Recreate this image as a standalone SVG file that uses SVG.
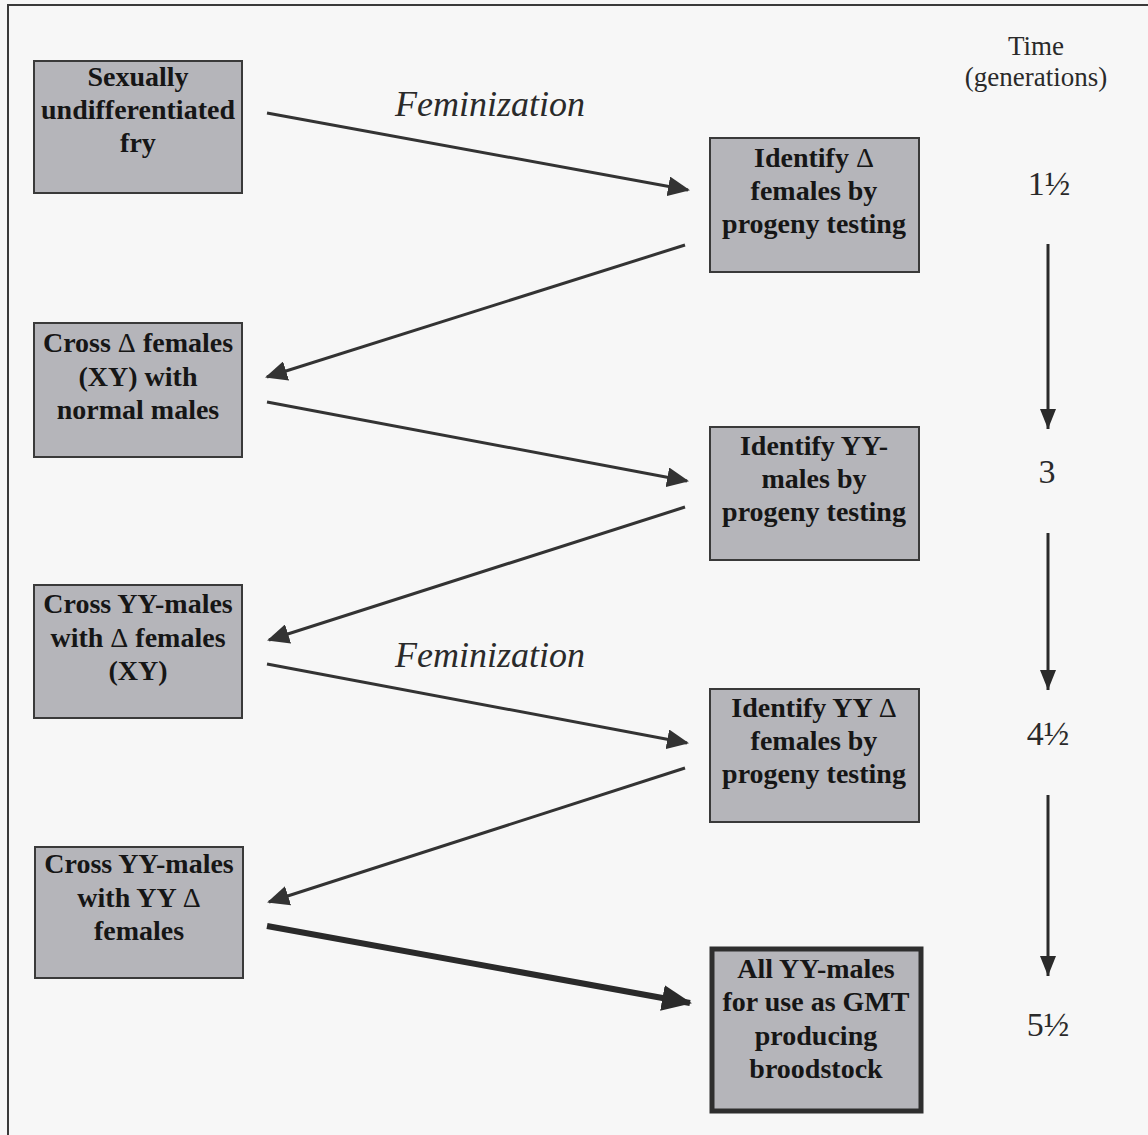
<svg xmlns="http://www.w3.org/2000/svg" width="1148" height="1135" viewBox="0 0 1148 1135">
<defs>
<style>
.box{fill:#b5b5ba;stroke:#3a3a3a;stroke-width:2}
.box8{fill:#b5b5ba;stroke:#2e2e2e;stroke-width:5}
.lbl{font-family:"Liberation Serif","Times New Roman",serif;font-weight:bold;font-size:28px;fill:#161616;text-anchor:middle}
.d{font-weight:normal}
.conn{stroke:#333;stroke-width:3;fill:none}
.thick{stroke:#2a2a2a;stroke-width:6;fill:none}
.fem{font-family:"Liberation Serif","Times New Roman",serif;font-style:italic;font-size:36px;fill:#2a2a2a}
.time{font-family:"Liberation Serif","Times New Roman",serif;font-size:27px;fill:#2a2a2a;text-anchor:middle}
.num{font-family:"Liberation Serif","Times New Roman",serif;font-size:34px;fill:#2a2a2a;text-anchor:middle}
.tl{stroke:#2a2a2a;stroke-width:3;fill:none}
</style>
<marker id="ah" markerWidth="22" markerHeight="20" refX="20" refY="10" orient="auto" markerUnits="userSpaceOnUse">
<path d="M0,0 L22,10 L0,20 Z" fill="#333"/>
</marker>
<marker id="ahT" markerWidth="30" markerHeight="26" refX="28" refY="13" orient="auto" markerUnits="userSpaceOnUse">
<path d="M0,0 L30,13 L0,26 Z" fill="#2a2a2a"/>
</marker>
<marker id="ahV" markerWidth="22" markerHeight="16" refX="20" refY="8" orient="auto" markerUnits="userSpaceOnUse">
<path d="M0,0 L20,8 L0,16 Z" fill="#2a2a2a"/>
</marker>
</defs>
<rect width="1148" height="1135" fill="#f7f7f7"/>
<path d="M8,1135 V5 H1148" fill="none" stroke="#3a3a3a" stroke-width="2"/>

<g id="connectors">
<line class="conn" x1="267" y1="113" x2="688" y2="190" marker-end="url(#ah)"/>
<line class="conn" x1="685" y1="245" x2="267" y2="377" marker-end="url(#ah)"/>
<line class="conn" x1="267" y1="402" x2="687" y2="481" marker-end="url(#ah)"/>
<line class="conn" x1="685" y1="507" x2="269" y2="640" marker-end="url(#ah)"/>
<line class="conn" x1="267" y1="664" x2="687" y2="743" marker-end="url(#ah)"/>
<line class="conn" x1="685" y1="768" x2="269" y2="902" marker-end="url(#ah)"/>
<line class="thick" x1="267" y1="926" x2="690" y2="1003" marker-end="url(#ahT)"/>
<line class="tl" x1="1048" y1="244" x2="1048" y2="429" marker-end="url(#ahV)"/>
<line class="tl" x1="1048" y1="533" x2="1048" y2="690" marker-end="url(#ahV)"/>
<line class="tl" x1="1048" y1="795" x2="1048" y2="976" marker-end="url(#ahV)"/>
</g>

<text class="fem" x="395" y="116">Feminization</text>
<text class="fem" x="395" y="667">Feminization</text>

<g id="time">
<text class="time" x="1036" y="55">Time</text>
<text class="time" x="1036" y="86">(generations)</text>
<text class="num" x="1049" y="195">1½</text>
<text class="num" x="1047" y="483">3</text>
<text class="num" x="1048" y="745">4½</text>
<text class="num" x="1048" y="1036">5½</text>
</g>

<g id="n1">
<rect class="box" x="34" y="61" width="208" height="132"/>
<text class="lbl" x="138" y="86">Sexually</text>
<text class="lbl" x="138" y="119">undifferentiated</text>
<text class="lbl" x="138" y="152">fry</text>
</g>
<g id="n2">
<rect class="box" x="710" y="138" width="209" height="134"/>
<text class="lbl" x="814" y="167">Identify <tspan class="d">Δ</tspan></text>
<text class="lbl" x="814" y="200">females by</text>
<text class="lbl" x="814" y="233">progeny testing</text>
</g>
<g id="n3">
<rect class="box" x="34" y="323" width="208" height="134"/>
<text class="lbl" x="138" y="352">Cross <tspan class="d">Δ</tspan> females</text>
<text class="lbl" x="138" y="386">(XY) with</text>
<text class="lbl" x="138" y="419">normal males</text>
</g>
<g id="n4">
<rect class="box" x="710" y="427" width="209" height="133"/>
<text class="lbl" x="814" y="455">Identify YY-</text>
<text class="lbl" x="814" y="488">males by</text>
<text class="lbl" x="814" y="521">progeny testing</text>
</g>
<g id="n5">
<rect class="box" x="34" y="585" width="208" height="133"/>
<text class="lbl" x="138" y="613">Cross YY-males</text>
<text class="lbl" x="138" y="647">with <tspan class="d">Δ</tspan> females</text>
<text class="lbl" x="138" y="680">(XY)</text>
</g>
<g id="n6">
<rect class="box" x="710" y="689" width="209" height="133"/>
<text class="lbl" x="814" y="717">Identify YY <tspan class="d">Δ</tspan></text>
<text class="lbl" x="814" y="750">females by</text>
<text class="lbl" x="814" y="783">progeny testing</text>
</g>
<g id="n7">
<rect class="box" x="35" y="847" width="208" height="131"/>
<text class="lbl" x="139" y="873">Cross YY-males</text>
<text class="lbl" x="139" y="907">with YY <tspan class="d">Δ</tspan></text>
<text class="lbl" x="139" y="940">females</text>
</g>
<g id="n8">
<rect class="box8" x="712" y="949" width="209" height="162"/>
<text class="lbl" x="816" y="978">All YY-males</text>
<text class="lbl" x="816" y="1011">for use as GMT</text>
<text class="lbl" x="816" y="1045">producing</text>
<text class="lbl" x="816" y="1078">broodstock</text>
</g>
</svg>
